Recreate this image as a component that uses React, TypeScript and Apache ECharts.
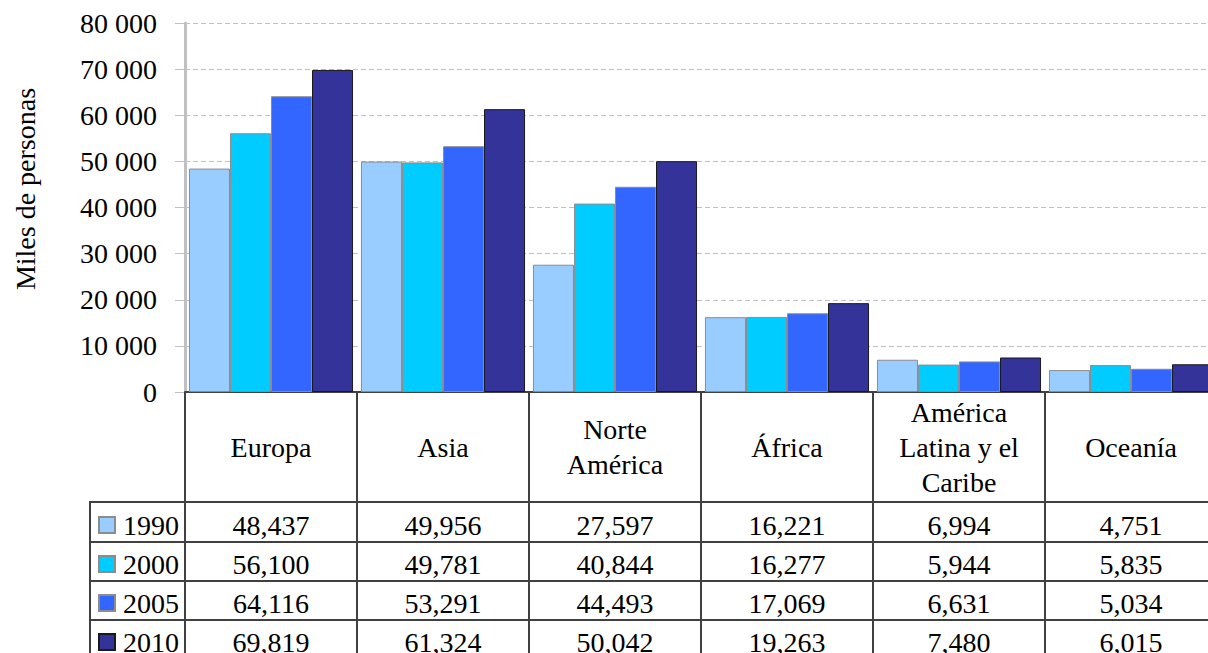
import React, { useEffect, useRef } from "react";
import * as echarts from "echarts";

const categories = ["Europa", "Asia", "Norte\nAmérica", "África", "América\nLatina y el\nCaribe", "Oceanía"];
const years = ["1990", "2000", "2005", "2010"];
const v1990 = [48437, 49956, 27597, 16221, 6994, 4751];
const v2000 = [56100, 49781, 40844, 16277, 5944, 5835];
const v2005 = [64116, 53291, 44493, 17069, 6631, 5034];
const v2010 = [69819, 61324, 50042, 19263, 7480, 6015];
const yTickValues = [0, 10000, 20000, 30000, 40000, 50000, 60000, 70000, 80000];
const yAxisName = "Miles de personas";

const seriesValues = [v1990, v2000, v2005, v2010];
const colors = ["#99CCFF", "#00CCFF", "#3366FF", "#333399"];
const borders = ["#8c8c8c", "#8c8c8c", "#8c8c8c", "#1a1a1a"];
const FONT = "'Liberation Serif', serif";

const fmtSpace = (v: number) => String(v).replace(/\B(?=(\d{3})+(?!\d))/g, " ");
const fmtComma = (v: number) => String(v).replace(/\B(?=(\d{3})+(?!\d))/g, ",");

export default function App() {
  const ref = useRef<HTMLDivElement>(null);
  useEffect(() => {
    if (!ref.current) return;
    const chart = echarts.init(ref.current, undefined, { renderer: "svg" });
    const H = 720;
    const axisY = 392;
    const rowMargins = [133, 172, 211, 250];
    const tableLeft = 90;
    const rowLines = [502, 542, 581, 620];

    const extraAxes = seriesValues.map((vals, i) => ({
      type: "category",
      gridIndex: 0,
      position: "bottom",
      data: categories,
      axisLine: { show: false },
      axisTick: { show: false },
      splitLine: { show: false },
      axisLabel: {
        interval: 0,
        margin: rowMargins[i],
        verticalAlign: "middle",
        fontSize: 28,
        fontFamily: FONT,
        color: "#000",
        formatter: (_: string, idx: number) => fmtComma(vals[idx]),
      },
    }));

    const graphics: any[] = [
      {
        type: "text",
        x: 25,
        y: 189,
        rotation: Math.PI / 2,
        style: {
          text: yAxisName,
          fontSize: 28,
          fontFamily: FONT,
          fill: "#000",
          align: "center",
          verticalAlign: "middle",
        },
      },
      {
        type: "line",
        shape: { x1: tableLeft, y1: rowLines[0], x2: tableLeft, y2: H },
        style: { stroke: "#404040", lineWidth: 2 },
      },
      ...rowLines.map((y) => ({
        type: "line",
        shape: { x1: tableLeft - 1, y1: y, x2: 1230, y2: y },
        style: { stroke: "#404040", lineWidth: 2 },
      })),
    ];

    chart.setOption({
      animation: false,
      backgroundColor: "#fff",
      textStyle: { fontFamily: FONT },
      grid: { left: 185, right: 0, top: 23, bottom: H - axisY, containLabel: false },
      legend: {
        orient: "vertical",
        left: 98,
        top: 511,
        padding: 0,
        itemWidth: 16,
        itemHeight: 16,
        itemGap: 11,
        icon: "rect",
        data: years,
        textStyle: { fontSize: 28, fontFamily: FONT, color: "#000", padding: [0, 0, 0, 3] },
      },
      xAxis: [
        {
          type: "category",
          data: categories,
          position: "bottom",
          axisLine: { show: true, lineStyle: { color: "#404040", width: 2 } },
          axisTick: { show: true, length: H - axisY, lineStyle: { color: "#404040", width: 2 } },
          axisLabel: {
            interval: 0,
            margin: 55,
            verticalAlign: "middle",
            lineHeight: 35,
            fontSize: 28,
            fontFamily: FONT,
            color: "#000",
          },
        },
        ...extraAxes,
      ],
      yAxis: {
        type: "value",
        min: yTickValues[0],
        max: yTickValues[yTickValues.length - 1],
        interval: 10000,
        axisLine: { show: true, lineStyle: { color: "#c0c0c0", width: 3 } },
        axisTick: { show: true, length: 10, lineStyle: { color: "#c0c0c0" } },
        splitLine: { show: true, lineStyle: { color: "#c0c0c0", type: [5, 3], width: 1 } },
        axisLabel: {
          margin: 28,
          fontSize: 28,
          fontFamily: FONT,
          color: "#000",
          formatter: (v: number) => fmtSpace(v),
        },
      },
      series: seriesValues.map((vals, i) => ({
        type: "bar",
        name: years[i],
        xAxisIndex: 0,
        data: vals,
        barGap: "0%",
        barCategoryGap: "4.6%",
        itemStyle: { color: colors[i], borderColor: borders[i], borderWidth: 1 },
      })),
      graphic: graphics,
    });
    return () => chart.dispose();
  }, []);
  return (
    <div
      ref={ref}
      style={{ position: "fixed", left: 0, top: 0, width: 1217, height: 720, background: "#fff" }}
    />
  );
}
